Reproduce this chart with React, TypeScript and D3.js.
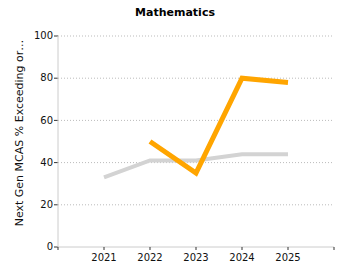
import React from "react";
import * as d3 from "d3";

const years = [2021, 2022, 2023, 2024, 2025];
const stateValues = [33, 41, 41, 44, 44];
const schoolYears = [2022, 2023, 2024, 2025];
const schoolValues = [50, 35, 80, 78];
const yTicks = [0, 20, 40, 60, 80, 100];
const title = "Mathematics";
const yLabel = "Next Gen MCAS % Exceeding or…";

export default function App() {
  const W = 350, H = 280;
  const left = 58, right = 334, top = 36, bottom = 247;
  const x = d3.scaleLinear().domain([2020, 2026]).range([left, right]);
  const y = d3.scaleLinear().domain([0, 100]).range([bottom, top]);
  const line = d3.line<[number, number]>().x(d => x(d[0])).y(d => y(d[1]));
  const stateData: [number, number][] = years.map((yr, i) => [yr, stateValues[i]]);
  const schoolData: [number, number][] = schoolYears.map((yr, i) => [yr, schoolValues[i]]);
  const font = "Verdana, 'DejaVu Sans', sans-serif";
  return (
    <svg width={W} height={H} style={{ position: "absolute", left: 0, top: 0 }} fontFamily={font}>
      <rect width={W} height={H} fill="#fff" />
      <text x={175} y={16} textAnchor="middle" fontSize={11} fontWeight="bold" fill="#000">{title}</text>
      {yTicks.map(t => (
        <g key={t}>
          {t > 0 && (
            <line x1={left} x2={right} y1={y(t)} y2={y(t)} stroke="#bbb" strokeDasharray="1,2" strokeWidth={1} />
          )}
          <line x1={left - 4} x2={left} y1={y(t)} y2={y(t)} stroke="#333" />
          <text x={left - 5} y={y(t)} dy="0.32em" textAnchor="end" fontSize={10} fill="#111">{t}</text>
        </g>
      ))}
      <line x1={left} x2={left} y1={top} y2={bottom} stroke="#ccc" />
      <line x1={left} x2={right} y1={bottom} y2={bottom} stroke="#ccc" />
      {[2020, ...years, 2026].map(t => (
        <line key={t} x1={x(t)} x2={x(t)} y1={bottom} y2={bottom + 3} stroke="#333" />
      ))}
      {years.map(t => (
        <text key={t} x={x(t)} y={bottom + 14} textAnchor="middle" fontSize={10} fill="#111">{t}</text>
      ))}
      <text transform={`translate(23,133) rotate(-90)`} textAnchor="middle" fontSize={11} fill="#111">{yLabel}</text>
      <path d={line(stateData) || ""} fill="none" stroke="#d3d3d3" strokeWidth={4} />
      <path d={line(schoolData) || ""} fill="none" stroke="#ffa500" strokeWidth={5} />
    </svg>
  );
}
